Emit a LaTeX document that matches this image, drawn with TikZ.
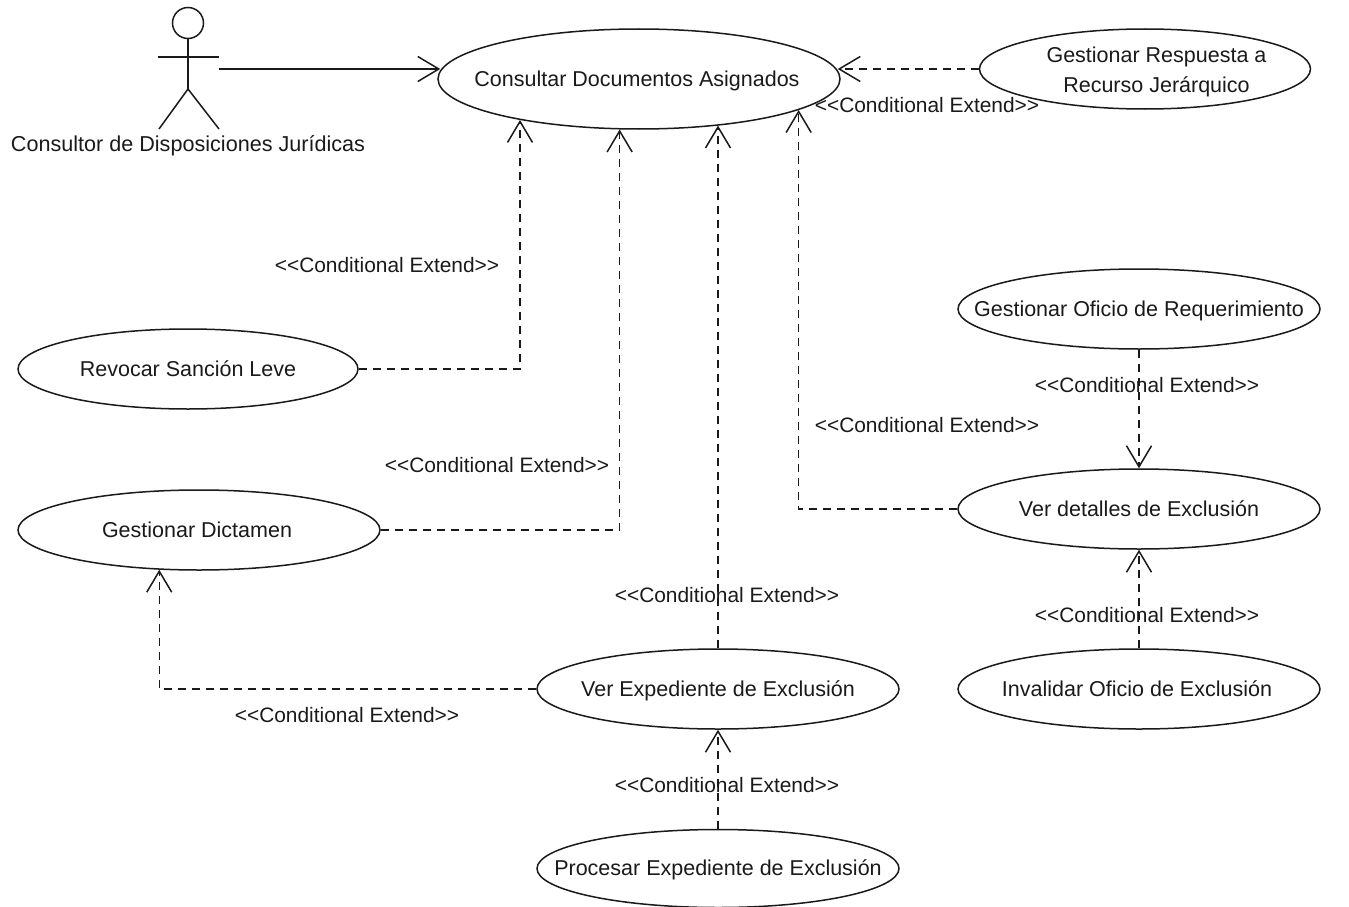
\documentclass[tikz,border=0pt]{standalone}
\usepackage{fontspec}
\setmainfont{Liberation Sans}
\usetikzlibrary{arrows.meta,shapes.geometric}
\definecolor{ink}{HTML}{1A1A1A}
\tikzset{
  x=1pt,y=-1pt,
  uc/.style={draw=ink,line width=1.5pt,ellipse,inner xsep=-60pt,inner ysep=-15pt,text=ink,font=\fontsize{21.5}{30}\selectfont,minimum width=#1},
  uc/.default=362pt,
  one/.style={text height=19pt,text depth=5pt},
  lbl/.style={text=ink,inner sep=0pt,font=\fontsize{20.9}{30}\selectfont},
  actlbl/.style={text=ink,inner sep=0pt,one,font=\fontsize{21.6}{30}\selectfont},
  ext/.style={draw=ink,line width=1.4pt,dash pattern=on 8pt off 6pt,-{Straight Barb[length=21pt,width=25pt,line width=1.5pt]}},
  assoc/.style={draw=ink,line width=1.4pt,-{Straight Barb[length=21pt,width=25pt,line width=1.5pt]}},
  actorline/.style={draw=ink,line width=1.5pt}
}
\begin{document}
\begin{tikzpicture}
\useasboundingbox (0,0) rectangle (1349,907);
\fill[white] (0,0) rectangle (1349,907);
% use cases
\node[uc=402pt,minimum height=100pt,one] (con) at (639,79) {\hspace*{-4pt}Consultar Documentos Asignados};
\node[uc=331pt,minimum height=80pt,align=center] (res) at (1145,69) {\hspace*{23pt}\rule{0pt}{22pt}Gestionar Respuesta a\\\hspace*{23pt}Recurso Jerárquico};
\node[uc=362pt,minimum height=80pt,one] (ofi) at (1139,309) {Gestionar Oficio de Requerimiento};
\node[uc=362pt,minimum height=80pt,one] (det) at (1139,509) {Ver detalles de Exclusión};
\node[uc=362pt,minimum height=80pt,one] (inv) at (1139,689) {\hspace*{-4pt}Invalidar Oficio de Exclusión};
\node[uc=340pt,minimum height=80pt,one] (rev) at (188,369) {Revocar Sanción Leve};
\node[uc=362pt,minimum height=80pt,one] (dic) at (199,530) {\hspace*{-4pt}Gestionar Dictamen};
\node[uc=362pt,minimum height=80pt,one] (ver) at (718,689) {Ver Expediente de Exclusión};
\node[uc=362pt,minimum height=78pt,one] (pro) at (718,868.5) {Procesar Expediente de Exclusión};
% actor
\node[circle,draw=ink,line width=1.5pt,minimum size=31pt,inner sep=0pt] (head) at (188,23) {};
\coordinate (hip) at (188,89);
\coordinate (larm) at (158,57);
\coordinate (rarm) at (219,57);
\coordinate (lfoot) at (159,129);
\coordinate (rfoot) at (219,129);
\coordinate (hand) at (219,69);
\draw[actorline] (head.south) -- (hip);
\draw[actorline] (larm) -- (rarm);
\draw[actorline] (lfoot) -- (hip) -- (rfoot);
\node[actlbl] (actor) at (188,144) {Consultor de Disposiciones Jurídicas};
% connectors
\draw[assoc,shorten >=-3pt] (hand) -- (hand -| con.west);
\draw[ext,shorten >=-3pt] (res.west) -- (res.west -| con.east);
\draw[ext] (rev.east) -| (con.-161.6);
\draw[ext] (dic.east) -| (con.-111.9);
\draw[ext] (ver.north) -- (ver.north |- con.-30.2);
\draw[ext] (det.west) -| (con.-11.5);
\draw[ext] (ofi.south) -- (det.north);
\draw[ext] (inv.north) -- (det.south);
\draw[ext] (pro.north) -- (ver.south);
\draw[ext] (ver.west) -| (dic.-135.7);
% stereotype labels
\node[lbl] (l1) at (387,265) {<{}<Conditional Extend>{}>};
\node[lbl] (l2) at (497,465) {<{}<Conditional Extend>{}>};
\node[lbl] (l3) at (727,595) {<{}<Conditional Extend>{}>};
\node[lbl] (l4) at (347,715) {<{}<Conditional Extend>{}>};
\node[lbl] (l5) at (727,785) {<{}<Conditional Extend>{}>};
\node[lbl] (l6) at (927,105) {<{}<Conditional Extend>{}>};
\node[lbl] (l7) at (927,425) {<{}<Conditional Extend>{}>};
\node[lbl] (l8) at (1147,385) {<{}<Conditional Extend>{}>};
\node[lbl] (l9) at (1147,615) {<{}<Conditional Extend>{}>};
\end{tikzpicture}
\end{document}
